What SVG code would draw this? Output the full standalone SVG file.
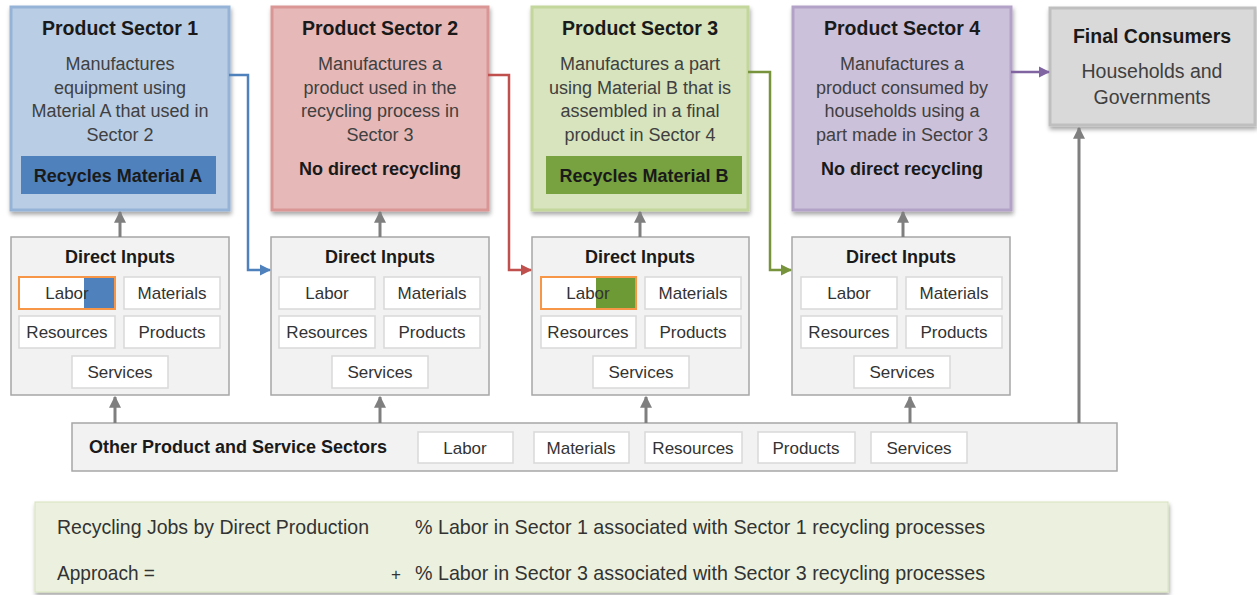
<svg xmlns="http://www.w3.org/2000/svg" width="1257" height="595" viewBox="0 0 1257 595">
<defs>
<filter id="sh" x="-10%" y="-10%" width="125%" height="125%">
<feDropShadow dx="1" dy="3" stdDeviation="2" flood-color="#000" flood-opacity="0.35"/>
</filter>
<marker id="ag" viewBox="0 0 10 10" refX="9" refY="5" markerWidth="4" markerHeight="4" orient="auto-start-reverse" markerUnits="strokeWidth"><path d="M0,0 L10,5 L0,10 z" fill="#7f7f7f"/></marker>
<marker id="ab" viewBox="0 0 10 10" refX="9" refY="5" markerWidth="4.5" markerHeight="4.5" orient="auto" markerUnits="strokeWidth"><path d="M0,0 L10,5 L0,10 z" fill="#4f81bd"/></marker>
<marker id="ar" viewBox="0 0 10 10" refX="9" refY="5" markerWidth="4.5" markerHeight="4.5" orient="auto" markerUnits="strokeWidth"><path d="M0,0 L10,5 L0,10 z" fill="#c0504d"/></marker>
<marker id="agr" viewBox="0 0 10 10" refX="9" refY="5" markerWidth="4.5" markerHeight="4.5" orient="auto" markerUnits="strokeWidth"><path d="M0,0 L10,5 L0,10 z" fill="#77933c"/></marker>
<marker id="ap" viewBox="0 0 10 10" refX="9" refY="5" markerWidth="4.5" markerHeight="4.5" orient="auto" markerUnits="strokeWidth"><path d="M0,0 L10,5 L0,10 z" fill="#8064a2"/></marker>
</defs>
<style>
text{font-family:"Liberation Sans",Arial,sans-serif;fill:#333}
.t{font-size:19.5px;font-weight:bold;text-anchor:middle;fill:#1a1a1a}
.b{font-size:18px;text-anchor:middle;fill:#404040}
.bb{font-size:18px;font-weight:bold;text-anchor:middle;fill:#1a1a1a}
.c{font-size:17px;text-anchor:middle;fill:#333}
.f{font-size:21px;fill:#333}
.di{fill:#f2f2f2;stroke:#a6a6a6;stroke-width:1.5}
.cell{fill:#fff;stroke:#d9d9d9;stroke-width:1.5}
.g{fill:none;stroke:#7f7f7f;stroke-width:3}
.con{fill:none;stroke-width:2.5}
</style>

<g id="sector1">
<rect x="11" y="7" width="218" height="203" fill="#b9cde5" stroke="#95b3d7" stroke-width="3" filter="url(#sh)"/>
<text class="t" x="120" y="35">Product Sector 1</text>
<text class="b" x="120" y="70">Manufactures</text>
<text class="b" x="120" y="94">equipment using</text>
<text class="b" x="120" y="117">Material A that used in</text>
<text class="b" x="120" y="141">Sector 2</text>
<rect x="21" y="156" width="195" height="38" fill="#4f81bd"/>
<text class="bb" x="118" y="182">Recycles Material A</text>
</g>

<g id="sector2">
<rect x="272" y="7" width="216" height="203" fill="#e6b9b8" stroke="#d99694" stroke-width="3" filter="url(#sh)"/>
<text class="t" x="380" y="35">Product Sector 2</text>
<text class="b" x="380" y="70">Manufactures a</text>
<text class="b" x="380" y="94">product used in the</text>
<text class="b" x="380" y="117">recycling process in</text>
<text class="b" x="380" y="141">Sector 3</text>
<text class="bb" x="380" y="175">No direct recycling</text>
</g>

<g id="sector3">
<rect x="532" y="7" width="216" height="203" fill="#d7e4bd" stroke="#c3d69b" stroke-width="3" filter="url(#sh)"/>
<text class="t" x="640" y="35">Product Sector 3</text>
<text class="b" x="640" y="70">Manufactures a part</text>
<text class="b" x="640" y="94">using Material B that is</text>
<text class="b" x="640" y="117">assembled in a final</text>
<text class="b" x="640" y="141">product in Sector 4</text>
<rect x="546" y="156" width="196" height="38" fill="#77a23f"/>
<text class="bb" x="644" y="182">Recycles Material B</text>
</g>

<g id="sector4">
<rect x="793" y="7" width="218" height="203" fill="#ccc1da" stroke="#b3a2c7" stroke-width="3" filter="url(#sh)"/>
<text class="t" x="902" y="35">Product Sector 4</text>
<text class="b" x="902" y="70">Manufactures a</text>
<text class="b" x="902" y="94">product consumed by</text>
<text class="b" x="902" y="117">households using a</text>
<text class="b" x="902" y="141">part made in Sector 3</text>
<text class="bb" x="902" y="175">No direct recycling</text>
</g>

<g id="final-consumers">
<rect x="1050" y="8" width="205" height="117" fill="#d9d9d9" stroke="#bfbfbf" stroke-width="3" filter="url(#sh)"/>
<text class="t" x="1152" y="43">Final Consumers</text>
<text class="b" x="1152" y="78" style="font-size:19.5px">Households and</text>
<text class="b" x="1152" y="104" style="font-size:19.5px">Governments</text>
</g>

<g id="inputs1">
<rect class="di" x="11" y="237" width="218" height="158"/>
<text class="bb" x="120" y="263">Direct Inputs</text>
<rect class="cell" x="19" y="277" width="96" height="32"/>
<rect x="84" y="278" width="30" height="30" fill="#4f81bd"/>
<rect x="19" y="277" width="96" height="32" fill="none" stroke="#f79646" stroke-width="2"/>
<text class="c" x="67" y="299">Labor</text>
<rect class="cell" x="124" y="277" width="96" height="32"/>
<text class="c" x="172" y="299">Materials</text>
<rect class="cell" x="19" y="316" width="96" height="32"/>
<text class="c" x="67" y="338">Resources</text>
<rect class="cell" x="124" y="316" width="96" height="32"/>
<text class="c" x="172" y="338">Products</text>
<rect class="cell" x="72" y="356" width="96" height="32"/>
<text class="c" x="120" y="378">Services</text>
</g>

<g id="inputs2">
<rect class="di" x="271" y="237" width="218" height="158"/>
<text class="bb" x="380" y="263">Direct Inputs</text>
<rect class="cell" x="279" y="277" width="96" height="32"/>
<text class="c" x="327" y="299">Labor</text>
<rect class="cell" x="384" y="277" width="96" height="32"/>
<text class="c" x="432" y="299">Materials</text>
<rect class="cell" x="279" y="316" width="96" height="32"/>
<text class="c" x="327" y="338">Resources</text>
<rect class="cell" x="384" y="316" width="96" height="32"/>
<text class="c" x="432" y="338">Products</text>
<rect class="cell" x="332" y="356" width="96" height="32"/>
<text class="c" x="380" y="378">Services</text>
</g>

<g id="inputs3">
<rect class="di" x="532" y="237" width="217" height="158"/>
<text class="bb" x="640" y="263">Direct Inputs</text>
<rect class="cell" x="541" y="277" width="95" height="32"/>
<rect x="596" y="278" width="39" height="30" fill="#6e9a36"/>
<rect x="541" y="277" width="95" height="32" fill="none" stroke="#f79646" stroke-width="2"/>
<text class="c" x="588" y="299">Labor</text>
<rect class="cell" x="645" y="277" width="96" height="32"/>
<text class="c" x="693" y="299">Materials</text>
<rect class="cell" x="541" y="316" width="95" height="32"/>
<text class="c" x="588" y="338">Resources</text>
<rect class="cell" x="645" y="316" width="96" height="32"/>
<text class="c" x="693" y="338">Products</text>
<rect class="cell" x="593" y="356" width="96" height="32"/>
<text class="c" x="641" y="378">Services</text>
</g>

<g id="inputs4">
<rect class="di" x="792" y="237" width="218" height="158"/>
<text class="bb" x="901" y="263">Direct Inputs</text>
<rect class="cell" x="801" y="277" width="96" height="32"/>
<text class="c" x="849" y="299">Labor</text>
<rect class="cell" x="906" y="277" width="96" height="32"/>
<text class="c" x="954" y="299">Materials</text>
<rect class="cell" x="801" y="316" width="96" height="32"/>
<text class="c" x="849" y="338">Resources</text>
<rect class="cell" x="906" y="316" width="96" height="32"/>
<text class="c" x="954" y="338">Products</text>
<rect class="cell" x="854" y="356" width="96" height="32"/>
<text class="c" x="902" y="378">Services</text>
</g>

<g id="other-sectors">
<rect class="di" x="72" y="423" width="1045" height="48"/>
<text x="89" y="453" style="font-size:18px;font-weight:bold;fill:#1a1a1a">Other Product and Service Sectors</text>
<rect class="cell" x="418" y="432" width="95" height="31"/>
<text class="c" x="465" y="454">Labor</text>
<rect class="cell" x="534" y="432" width="95" height="31"/>
<text class="c" x="581" y="454">Materials</text>
<rect class="cell" x="645" y="432" width="97" height="31"/>
<text class="c" x="693" y="454">Resources</text>
<rect class="cell" x="758" y="432" width="97" height="31"/>
<text class="c" x="806" y="454">Products</text>
<rect class="cell" x="871" y="432" width="96" height="31"/>
<text class="c" x="919" y="454">Services</text>
</g>

<g id="connectors">
<line class="g" x1="120" y1="237" x2="120" y2="212" marker-end="url(#ag)"/>
<line class="g" x1="380" y1="237" x2="380" y2="212" marker-end="url(#ag)"/>
<line class="g" x1="640" y1="237" x2="640" y2="212" marker-end="url(#ag)"/>
<line class="g" x1="903" y1="237" x2="903" y2="212" marker-end="url(#ag)"/>
<line class="g" x1="115" y1="423" x2="115" y2="397" marker-end="url(#ag)"/>
<line class="g" x1="380" y1="423" x2="380" y2="397" marker-end="url(#ag)"/>
<line class="g" x1="646" y1="423" x2="646" y2="397" marker-end="url(#ag)"/>
<line class="g" x1="910" y1="423" x2="910" y2="397" marker-end="url(#ag)"/>
<line class="g" x1="1079" y1="423" x2="1079" y2="128" marker-end="url(#ag)"/>
<polyline class="con" stroke="#4f81bd" points="229,75 248,75 248,270 270,270" marker-end="url(#ab)"/>
<polyline class="con" stroke="#c0504d" points="488,75 509,75 509,270 531,270" marker-end="url(#ar)"/>
<polyline class="con" stroke="#77933c" points="748,72 770,72 770,270 791,270" marker-end="url(#agr)"/>
<line class="con" stroke="#8064a2" x1="1011" y1="72" x2="1049" y2="72" marker-end="url(#ap)"/>
</g>

<g id="formula">
<rect x="35" y="502" width="1133" height="90" fill="#ebf1de" stroke="#d7e4bd" stroke-width="1" filter="url(#sh)"/>
<text class="f" x="57" y="534" textLength="312" lengthAdjust="spacingAndGlyphs">Recycling Jobs by Direct Production</text>
<text class="f" x="415" y="534" textLength="570" lengthAdjust="spacingAndGlyphs">% Labor in Sector 1 associated with Sector 1 recycling processes</text>
<text class="f" x="57" y="580" textLength="98" lengthAdjust="spacingAndGlyphs">Approach =</text>
<text class="f" x="391" y="580" style="font-size:17px">+</text>
<text class="f" x="415" y="580" textLength="570" lengthAdjust="spacingAndGlyphs">% Labor in Sector 3 associated with Sector 3 recycling processes</text>
</g>
</svg>
